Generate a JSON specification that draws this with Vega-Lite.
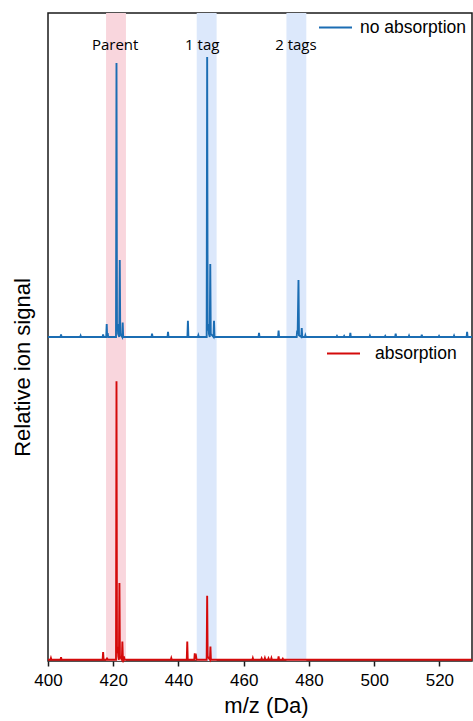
{
  "$schema": "https://vega.github.io/schema/vega-lite/v6.json",
  "width": 424,
  "height": 648,
  "autosize": "none",
  "padding": {"left": 48, "top": 13, "right": 1, "bottom": 60},
  "background": "white",
  "config": {
    "view": {"stroke": "#1a1a1a", "strokeWidth": 1.5},
    "axis": {"grid": false, "labelFont": "Liberation Sans", "titleFont": "Liberation Sans", "labelColor": "black", "titleColor": "black", "titleFontWeight": "normal"},
    "axisX": {"domain": false, "tickColor": "#1a1a1a", "tickWidth": 1.5, "tickSize": 5, "labelFontSize": 17, "labelPadding": 6, "labelFlush": false, "labelOverlap": false, "titleFontSize": 22, "titlePadding": 7}
  },
  "datasets": {
    "bands": [
      {"kind": "parent", "start": 417.8, "end": 423.9},
      {"kind": "tag", "start": 445.6, "end": 451.7},
      {"kind": "tag", "start": 473.1, "end": 479.2}
    ],
    "labels": [
      {"label": "Parent", "mz": 420.6},
      {"label": "1 tag", "mz": 447.3},
      {"label": "2 tags", "mz": 476.0}
    ],
    "blue": [
      {"mz": 400, "s": 0},
      {"mz": 403.85, "s": 0}, {"mz": 404.0, "s": 0.008}, {"mz": 404.15, "s": 0},
      {"mz": 409.85, "s": 0}, {"mz": 410.0, "s": 0.004}, {"mz": 410.15, "s": 0},
      {"mz": 416.75, "s": 0}, {"mz": 416.9, "s": 0.008}, {"mz": 417.05, "s": 0},
      {"mz": 417.85, "s": 0}, {"mz": 418.0, "s": 0.04}, {"mz": 418.12, "s": 0.006}, {"mz": 418.3, "s": 0.012}, {"mz": 418.45, "s": 0},
      {"mz": 420.85, "s": 0}, {"mz": 421.0, "s": 0.846}, {"mz": 421.15, "s": 0.02}, {"mz": 421.35, "s": 0.04}, {"mz": 421.5, "s": 0.01},
      {"mz": 421.85, "s": 0}, {"mz": 422.0, "s": 0.238}, {"mz": 422.15, "s": 0.01}, {"mz": 422.75, "s": 0}, {"mz": 422.9, "s": 0.045}, {"mz": 423.05, "s": 0},
      {"mz": 431.75, "s": 0}, {"mz": 431.9, "s": 0.01}, {"mz": 432.05, "s": 0},
      {"mz": 436.65, "s": 0}, {"mz": 436.8, "s": 0.016}, {"mz": 436.95, "s": 0},
      {"mz": 442.75, "s": 0}, {"mz": 442.9, "s": 0.05}, {"mz": 443.05, "s": 0},
      {"mz": 445.95, "s": 0}, {"mz": 446.1, "s": 0.005}, {"mz": 446.25, "s": 0},
      {"mz": 448.65, "s": 0}, {"mz": 448.8, "s": 0.864}, {"mz": 448.95, "s": 0.02}, {"mz": 449.2, "s": 0.04}, {"mz": 449.35, "s": 0.01},
      {"mz": 449.6, "s": 0}, {"mz": 449.75, "s": 0.225}, {"mz": 449.9, "s": 0.01}, {"mz": 450.75, "s": 0}, {"mz": 450.9, "s": 0.05}, {"mz": 451.05, "s": 0},
      {"mz": 464.55, "s": 0}, {"mz": 464.7, "s": 0.013}, {"mz": 464.85, "s": 0},
      {"mz": 470.55, "s": 0}, {"mz": 470.7, "s": 0.02}, {"mz": 470.85, "s": 0},
      {"mz": 476.25, "s": 0}, {"mz": 476.4, "s": 0.02}, {"mz": 476.55, "s": 0.01}, {"mz": 476.8, "s": 0.176}, {"mz": 476.95, "s": 0.005},
      {"mz": 477.65, "s": 0}, {"mz": 477.8, "s": 0.028}, {"mz": 477.95, "s": 0},
      {"mz": 478.75, "s": 0}, {"mz": 478.9, "s": 0.005}, {"mz": 479.05, "s": 0},
      {"mz": 488.45, "s": 0}, {"mz": 488.6, "s": 0.003}, {"mz": 488.75, "s": 0},
      {"mz": 490.65, "s": 0}, {"mz": 490.8, "s": 0.003}, {"mz": 490.95, "s": 0},
      {"mz": 492.55, "s": 0}, {"mz": 492.7, "s": 0.013}, {"mz": 492.85, "s": 0},
      {"mz": 498.55, "s": 0}, {"mz": 498.7, "s": 0.004}, {"mz": 498.85, "s": 0},
      {"mz": 503.25, "s": 0}, {"mz": 503.4, "s": 0.003}, {"mz": 503.55, "s": 0},
      {"mz": 506.45, "s": 0}, {"mz": 506.6, "s": 0.01}, {"mz": 506.75, "s": 0},
      {"mz": 510.55, "s": 0}, {"mz": 510.7, "s": 0.004}, {"mz": 510.85, "s": 0},
      {"mz": 514.45, "s": 0}, {"mz": 514.6, "s": 0.007}, {"mz": 514.75, "s": 0},
      {"mz": 519.75, "s": 0}, {"mz": 519.9, "s": 0.003}, {"mz": 520.05, "s": 0},
      {"mz": 524.35, "s": 0}, {"mz": 524.5, "s": 0.004}, {"mz": 524.65, "s": 0},
      {"mz": 528.35, "s": 0}, {"mz": 528.5, "s": 0.016}, {"mz": 528.65, "s": 0},
      {"mz": 530, "s": 0}
    ],
    "red": [
      {"mz": 400, "s": 0},
      {"mz": 400.75, "s": 0}, {"mz": 400.9, "s": 0.005}, {"mz": 401.05, "s": 0},
      {"mz": 403.85, "s": 0}, {"mz": 404.0, "s": 0.008}, {"mz": 404.15, "s": 0},
      {"mz": 416.75, "s": 0}, {"mz": 416.9, "s": 0.024}, {"mz": 417.05, "s": 0},
      {"mz": 417.95, "s": 0}, {"mz": 418.1, "s": 0.006}, {"mz": 418.25, "s": 0},
      {"mz": 420.85, "s": 0}, {"mz": 421.0, "s": 0.861}, {"mz": 421.15, "s": 0.02}, {"mz": 421.4, "s": 0.04}, {"mz": 421.55, "s": 0.01},
      {"mz": 421.75, "s": 0}, {"mz": 421.9, "s": 0.237}, {"mz": 422.05, "s": 0.01}, {"mz": 422.65, "s": 0}, {"mz": 422.8, "s": 0.056}, {"mz": 422.95, "s": 0.005},
      {"mz": 423.15, "s": 0}, {"mz": 423.3, "s": 0.01}, {"mz": 423.45, "s": 0},
      {"mz": 437.65, "s": 0}, {"mz": 437.8, "s": 0.005}, {"mz": 437.95, "s": 0},
      {"mz": 442.55, "s": 0}, {"mz": 442.7, "s": 0.056}, {"mz": 442.85, "s": 0},
      {"mz": 444.85, "s": 0}, {"mz": 445.0, "s": 0.02}, {"mz": 445.15, "s": 0.004}, {"mz": 445.4, "s": 0.01}, {"mz": 445.55, "s": 0},
      {"mz": 448.65, "s": 0}, {"mz": 448.8, "s": 0.198}, {"mz": 448.95, "s": 0.01},
      {"mz": 449.65, "s": 0}, {"mz": 449.8, "s": 0.041}, {"mz": 449.95, "s": 0},
      {"mz": 462.65, "s": 0}, {"mz": 462.8, "s": 0.005}, {"mz": 462.95, "s": 0},
      {"mz": 465.35, "s": 0}, {"mz": 465.5, "s": 0.004}, {"mz": 465.65, "s": 0},
      {"mz": 466.35, "s": 0}, {"mz": 466.5, "s": 0.005}, {"mz": 466.65, "s": 0},
      {"mz": 467.45, "s": 0}, {"mz": 467.6, "s": 0.004}, {"mz": 467.75, "s": 0},
      {"mz": 468.35, "s": 0}, {"mz": 468.5, "s": 0.005}, {"mz": 468.65, "s": 0},
      {"mz": 470.55, "s": 0}, {"mz": 470.7, "s": 0.01}, {"mz": 470.85, "s": 0},
      {"mz": 471.85, "s": 0}, {"mz": 472.0, "s": 0.003}, {"mz": 472.15, "s": 0},
      {"mz": 530, "s": 0}
    ]
  },
  "resolve": {"scale": {"y": "independent", "color": "independent"}},
  "layer": [
    {
      "data": {"name": "bands"},
      "mark": {"type": "rect"},
      "encoding": {
        "x": {"field": "start", "type": "quantitative", "scale": {"domain": [400, 530], "nice": false, "zero": false}, "title": "m/z (Da)",
              "axis": {"values": [400, 410, 420, 430, 440, 450, 460, 470, 480, 490, 500, 510, 520, 530], "labelExpr": "datum.value % 20 === 0 ? datum.label : ''", "titleX": 218}},
        "x2": {"field": "end"},
        "color": {"field": "kind", "type": "nominal", "scale": {"domain": ["parent", "tag"], "range": ["#f9d6dd", "#dce8fb"]}, "legend": null}
      }
    },
    {
      "layer": [
        {
          "data": {"name": "blue"},
          "mark": {"type": "line", "strokeWidth": 1.9, "interpolate": "linear"},
          "encoding": {
            "x": {"field": "mz", "type": "quantitative", "scale": {"domain": [400, 530], "nice": false, "zero": false}, "title": "m/z (Da)"},
            "y": {"field": "s", "type": "quantitative", "scale": {"domain": [-1, 1], "nice": false, "zero": false}, "axis": null},
            "color": {"datum": "no absorption", "type": "nominal", "scale": {"domain": ["no absorption"], "range": ["#1b6db3"]},
                      "legend": {"orient": "none", "legendX": 270, "legendY": -3, "title": null, "padding": 0, "symbolType": "stroke", "symbolSize": 1089, "symbolStrokeWidth": 2, "labelFontSize": 17.5, "labelFont": "Liberation Sans", "labelColor": "black", "labelOffset": 7}}
          }
        },
        {
          "data": {"name": "labels"},
          "mark": {"type": "text", "font": "Open Sans", "fontSize": 15, "color": "black", "baseline": "alphabetic", "align": "center"},
          "encoding": {
            "x": {"field": "mz", "type": "quantitative", "title": "m/z (Da)"},
            "y": {"datum": 0.886, "type": "quantitative"},
            "text": {"field": "label"}
          }
        }
      ]
    },
    {
      "data": {"name": "red"},
      "mark": {"type": "line", "strokeWidth": 1.9, "interpolate": "linear"},
      "encoding": {
        "x": {"field": "mz", "type": "quantitative", "scale": {"domain": [400, 530], "nice": false, "zero": false}, "title": "m/z (Da)"},
        "y": {"field": "s", "type": "quantitative", "scale": {"domain": [-0.004, 2], "nice": false, "zero": false}, "title": "Relative ion signal",
              "axis": {"orient": "left", "labels": false, "ticks": false, "domain": false, "titleFontSize": 22, "titlePadding": 14, "titleY": 354}},
        "color": {"datum": "absorption", "type": "nominal", "scale": {"domain": ["absorption"], "range": ["#d40a0a"]},
                  "legend": {"orient": "none", "legendX": 278, "legendY": 323, "title": null, "padding": 0, "symbolType": "stroke", "symbolSize": 1089, "symbolStrokeWidth": 2, "labelFontSize": 17.5, "labelFont": "Liberation Sans", "labelColor": "black", "labelOffset": 14}}
      }
    }
  ]
}
